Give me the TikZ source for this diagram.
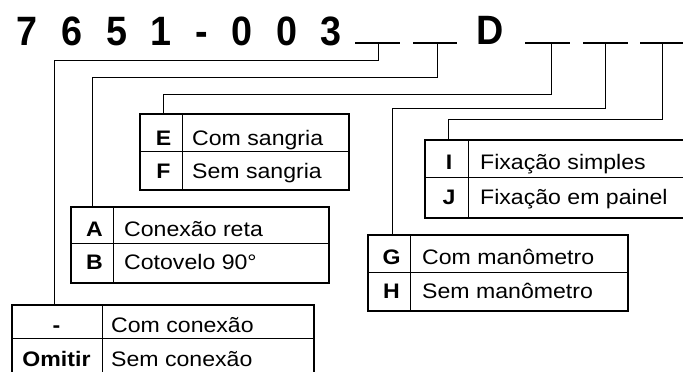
\documentclass[tikz,border=0pt]{standalone}
\usepackage{fontspec}
\setmainfont{Liberation Sans}
\newfontfamily\lblfont[FakeStretch=1.1]{Liberation Sans}
\newfontfamily\titlefont[FakeStretch=0.92]{Liberation Sans}
\tikzset{
  conn/.style={line width=1pt},
  boxframe/.style={draw, line width=2pt, rectangle, inner sep=0, anchor=north west},
  sepline/.style={line width=1pt},
  uscore/.style={line width=1.3pt},
  code/.style={font=\lblfont\bfseries\fontsize{21}{24}\selectfont, anchor=base, inner sep=0},
  desc/.style={font=\lblfont\fontsize{21}{24}\selectfont, anchor=base west, inner sep=0},
  ttl/.style={font=\titlefont\bfseries\fontsize{41}{44}\selectfont, anchor=base, inner sep=0},
}
\begin{document}
\begin{tikzpicture}[x=1pt,y=-1pt]
\useasboundingbox (0,0) rectangle (683,372);
\clip (0,0) rectangle (683,372);
% title
\node[ttl] (t1) at (26.5,45) {7};
\node[ttl] (t2) at (72,45) {6};
\node[ttl] (t3) at (117,45) {5};
\node[ttl] (t4) at (161,45) {1};
\node[ttl] (t5) at (202,45) {-};
\node[ttl] (t6) at (242,45) {0};
\node[ttl] (t7) at (287,45) {0};
\node[ttl] (t8) at (331,45) {3};
\node[ttl] (t9) at (490,44) {D};
% underscores
\coordinate (u1a) at (355,43); \coordinate (u1b) at (400,43); \coordinate (u1c) at (378,43);
\coordinate (u2a) at (413,43); \coordinate (u2b) at (457,43); \coordinate (u2c) at (437,43);
\coordinate (u3a) at (525,43); \coordinate (u3b) at (570,43); \coordinate (u3c) at (551,43);
\coordinate (u4a) at (583,43); \coordinate (u4b) at (628,43); \coordinate (u4c) at (605,43);
\coordinate (u5a) at (640,43); \coordinate (u5b) at (690,43); \coordinate (u5c) at (662,43);
\foreach \i in {1,...,5} \draw[uscore] (u\i a) -- (u\i b);
% boxes
\node[boxframe, minimum width=209pt, minimum height=76pt] (bEF) at (139,113) {};
\node[boxframe, minimum width=276pt, minimum height=78pt] (bIJ) at (424,139) {};
\node[boxframe, minimum width=260pt, minimum height=76pt] (bGH) at (367,234) {};
\node[boxframe, minimum width=258pt, minimum height=76pt] (bAB) at (70,206) {};
\node[boxframe, minimum width=302pt, minimum height=96pt] (bOm) at (11,304) {};
% inner lines
\draw[sepline] ([yshift=-38pt]bEF.north west) -- ([yshift=-38pt]bEF.north east);
\draw[sepline] ([xshift=43pt]bEF.north west) -- ([xshift=43pt]bEF.south west);
\draw[sepline] ([yshift=-38pt]bIJ.north west) -- ([yshift=-38pt]bIJ.north east);
\draw[sepline] ([xshift=44pt]bIJ.north west) -- ([xshift=44pt]bIJ.south west);
\draw[sepline] ([yshift=-38pt]bGH.north west) -- ([yshift=-38pt]bGH.north east);
\draw[sepline] ([xshift=43pt]bGH.north west) -- ([xshift=43pt]bGH.south west);
\draw[sepline] ([yshift=-37pt]bAB.north west) -- ([yshift=-37pt]bAB.north east);
\draw[sepline] ([xshift=43pt]bAB.north west) -- ([xshift=43pt]bAB.south west);
\draw[sepline] ([yshift=-34pt]bOm.north west) -- ([yshift=-34pt]bOm.north east);
\draw[sepline] ([xshift=91pt]bOm.north west) -- ([xshift=91pt]bOm.south west);
% connectors
\coordinate (k1) at (54,60);
\coordinate (k2) at (92,77);
\coordinate (k3) at (163,94);
\coordinate (k4) at (392,108);
\coordinate (k5) at (448,119);
\draw[conn] (u1c) |- (k1) -- (k1 |- bOm.north);
\draw[conn] (u2c) |- (k2) -- (k2 |- bAB.north);
\draw[conn] (u3c) |- (k3) -- (k3 |- bEF.north);
\draw[conn] (u4c) |- (k4) -- (k4 |- bGH.north);
\draw[conn] (u5c) |- (k5) -- (k5 |- bIJ.north);
% texts E/F
\node[code] (cE) at (163.5,145) {E};
\node[desc] (dE) at (192,145) {Com sangria};
\node[code] (cF) at (163.5,178) {F};
\node[desc] (dF) at (192,178) {Sem sangria};
% I/J
\node[code] (cI) at (449,169) {I};
\node[desc] (dI) at (480,169) {Fixação simples};
\node[code] (cJ) at (449,204) {J};
\node[desc] (dJ) at (480,204) {Fixação em painel};
% G/H
\node[code] (cG) at (391.5,264) {G};
\node[desc] (dG) at (422,264) {Com manômetro};
\node[code] (cH) at (391.5,298) {H};
\node[desc] (dH) at (422,298) {Sem manômetro};
% A/B
\node[code] (cA) at (94.5,236) {A};
\node[desc] (dA) at (124,236) {Conexão reta};
\node[code] (cB) at (94.5,269) {B};
\node[desc] (dB) at (124,269) {Cotovelo 90°};
% -/Omitir
\node[code] (cM) at (56.5,332) {-};
\node[desc] (dM) at (111,332) {Com conexão};
\node[code] (cO) at (56.5,366) {Omitir};
\node[desc] (dO) at (111,366) {Sem conexão};
\end{tikzpicture}
\end{document}
